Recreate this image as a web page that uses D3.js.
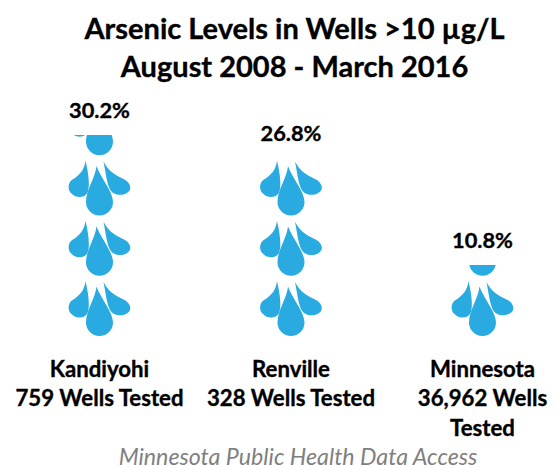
<!DOCTYPE html>
<html>
<head>
<meta charset="utf-8" />
<title>Arsenic Levels in Wells</title>
<script src="https://cdn.jsdelivr.net/npm/d3@7/dist/d3.min.js"></script>
<style>
html, body { margin: 0; padding: 0; background: #fff; overflow: hidden; }
text { font-family: Lato, "Open Sans", sans-serif; }
.heavy { stroke: #000; stroke-width: 0.35px; }
</style>
</head>
<body>
<div id="chart"></div>
<script>
const counties = ["Kandiyohi", "Renville", "Minnesota"];
const percents = [30.2, 26.8, 10.8];
const testedLines = [["759 Wells Tested"], ["328 Wells Tested"], ["36,962 Wells", "Tested"]];
const titleLines = ["Arsenic Levels in Wells >10 \u00b5g/L", "August 2008 - March 2016"];
const source = "Minnesota Public Health Data Access";

const width = 556;
const height = 465;
const dropColor = "#29abe2";
const iconPitch = 60.3;
const iconBottom = 336;

// one icon = three drops, drawn from its bottom centre
const dropPaths = [
	"M-3,-49.5C-4,-38 -13.5,-26 -13.5,-13.5A13.5,13.5 0 0 0 13.5,-13.5C13.5,-24 1,-38 -3,-49.5Z",
	"M-14,-55C-15,-46 -20,-40 -27,-36C-32,-33 -32,-25 -28,-22C-24,-17.5 -16,-17 -12.5,-22C-9,-28 -11,-42 -14,-55Z",
	"M4,-54C8,-46 14,-41 25,-36C31,-33 33,-26 28,-23C23,-19 13,-20 10,-27C7,-34 6,-44 4,-54Z"
];

const x = d3.scalePoint().domain(counties).range([99.5, 482.5]);
const y = d3.scaleLinear().domain([0, 30.2]).range([337.3, 135]);

const svg = d3.select("#chart").append("svg")
	.attr("width", width)
	.attr("height", height)
	.style("display", "block");

svg.append("g").selectAll("text")
	.data(titleLines)
	.enter().append("text")
		.attr("class", "heavy")
		.attr("x", 294.5)
		.attr("y", (d, i) => 39 + i * 38)
		.attr("text-anchor", "middle")
		.attr("font-size", 29)
		.attr("font-weight", 700)
		.attr("fill", "#000")
		.text(d => d);

const columns = svg.selectAll("g.column")
	.data(counties)
	.enter().append("g")
		.attr("class", "column")
		.attr("transform", d => "translate(" + x(d) + ",0)");

columns.each(function(d, i) {
	const col = d3.select(this);
	const clipId = "clip" + i;
	// the stack is cut off at the height of the value
	svg.append("clipPath").attr("id", clipId)
		.append("rect")
			.attr("x", -50)
			.attr("y", y(percents[i]))
			.attr("width", 100)
			.attr("height", y(0) - y(percents[i]));
	const icons = col.append("g").attr("clip-path", "url(#" + clipId + ")")
		.selectAll("g")
		.data(d3.range(Math.ceil(percents[i] / 10)))
		.enter().append("g")
			.attr("transform", n => "translate(0," + (iconBottom - n * iconPitch) + ")");
	icons.selectAll("path")
		.data(dropPaths)
		.enter().append("path")
			.attr("d", p => p)
			.attr("fill", dropColor);

	col.append("text")
		.attr("class", "heavy")
		.attr("x", 0)
		.attr("y", y(percents[i]) - 17)
		.attr("text-anchor", "middle")
		.attr("font-size", 21.8)
		.attr("font-weight", 700)
		.text(percents[i].toFixed(1) + "%");

	col.selectAll("text.label")
		.data([d].concat(testedLines[i]))
		.enter().append("text")
			.attr("class", "label heavy")
			.attr("x", 0)
			.attr("y", (t, k) => 376.5 + k * 29.5)
			.attr("text-anchor", "middle")
			.attr("font-size", 22.2)
			.attr("font-weight", 700)
			.text(t => t);
});

svg.append("text")
	.attr("x", 298)
	.attr("y", 465)
	.attr("text-anchor", "middle")
	.attr("font-size", 23.2)
	.attr("font-style", "italic")
	.attr("fill", "#7f7f7f")
	.text(source);
</script>
</body>
</html>
